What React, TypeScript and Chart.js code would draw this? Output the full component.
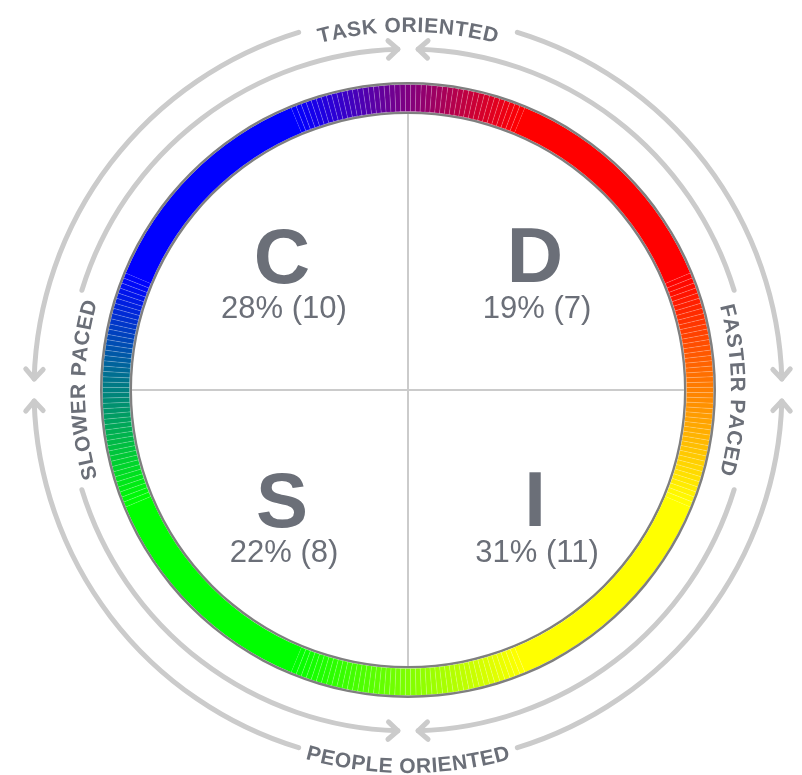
import React, { useEffect, useRef } from 'react';
import { Chart, registerables } from 'chart.js';

Chart.register(...registerables);

// ---- data ----
const quadrantLetters = ['C', 'D', 'S', 'I'];
const quadrantPercents = [28, 19, 22, 31];
const quadrantCounts = [10, 7, 8, 11];
const axisLabels = ['TASK ORIENTED', 'FASTER PACED', 'PEOPLE ORIENTED', 'SLOWER PACED'];

// ring colour stops, clockwise from the top: red (D), yellow (I), green (S), blue (C)
const ringStopColors = [
  [255, 0, 0],
  [255, 255, 0],
  [0, 255, 0],
  [0, 0, 255],
];
const ringSolidDegrees = [45, 45, 45, 45];
const ringBlendSteps = [45, 45, 45, 45];

// ---- style ----
const TEXT_COLOR = '#6b6f78';
const GUIDE_COLOR = '#cbcbcb';
const RING_EDGE = '#7f7f7f';
const FONT = '"Liberation Sans", Arial, Helvetica, sans-serif';

function buildRing() {
  const values: number[] = [];
  const colors: string[] = [];
  const borders: number[] = [];
  for (let i = 0; i < 4; i++) {
    const from = ringStopColors[(i + 3) % 4];
    const to = ringStopColors[i];
    const steps = ringBlendSteps[i];
    for (let k = 0; k < steps; k++) {
      const t = (k + 0.5) / steps;
      const c = from.map((v, j) => Math.round(v + (to[j] - v) * t));
      values.push(45 / steps);
      colors.push(`rgb(${c[0]},${c[1]},${c[2]})`);
      borders.push(0.5);
    }
    values.push(ringSolidDegrees[i]);
    colors.push(`rgb(${to[0]},${to[1]},${to[2]})`);
    borders.push(0);
  }
  return { values, colors, borders };
}

const deg = Math.PI / 180;

const decorPlugin = {
  id: 'discDecor',
  afterDatasetsDraw(chart: any) {
    const ctx: CanvasRenderingContext2D = chart.ctx;
    const meta = chart.getDatasetMeta(2);
    const arc = meta.data[0];
    const cx = arc.x;
    const cy = arc.y;
    const rIn = arc.innerRadius;

    ctx.save();
    // crosshair
    ctx.strokeStyle = GUIDE_COLOR;
    ctx.lineWidth = 2;
    ctx.beginPath();
    ctx.moveTo(cx, cy - rIn);
    ctx.lineTo(cx, cy + rIn);
    ctx.moveTo(cx - rIn, cy);
    ctx.lineTo(cx + rIn, cy);
    ctx.stroke();

    // quadrant labels
    const pos = [
      [-126, -107, -72],
      [127, -108, -72],
      [-126, 137, 172],
      [127, 136, 172],
    ];
    ctx.fillStyle = TEXT_COLOR;
    ctx.textAlign = 'center';
    ctx.textBaseline = 'alphabetic';
    quadrantLetters.forEach((L, i) => {
      const [dx, ly, py] = pos[i];
      ctx.font = `bold 78px ${FONT}`;
      ctx.fillText(L, cx + dx, cy + ly);
      ctx.font = `31px ${FONT}`;
      ctx.fillText(`${quadrantPercents[i]}% (${quadrantCounts[i]})`, cx + dx + 2, cy + py);
    });

    // guide arcs with arrows
    const arcs = [
      // r, start, end, arrowAtEnd
      [341, 287, 358.3, true],
      [341, 1.7, 73, false],
      [341, 107, 178.3, true],
      [341, 181.7, 253, false],
      [374, 17, 88.3, true],
      [374, 91.7, 163, false],
      [374, 197, 268.3, true],
      [374, 271.7, 343, false],
    ] as [number, number, number, boolean][];
    ctx.strokeStyle = GUIDE_COLOR;
    ctx.lineWidth = 5;
    ctx.lineCap = 'round';
    ctx.lineJoin = 'round';
    arcs.forEach(([r, a0, a1, atEnd]) => {
      ctx.beginPath();
      ctx.arc(cx, cy, r, (a0 - 90) * deg, (a1 - 90) * deg, false);
      ctx.stroke();
      const ta = (atEnd ? a1 : a0) * deg;
      const px = cx + r * Math.sin(ta);
      const py = cy - r * Math.cos(ta);
      let fx = Math.cos(ta);
      let fy = Math.sin(ta);
      if (!atEnd) { fx = -fx; fy = -fy; }
      const bx = -fx, by = -fy;
      const L = 13, ang = 42 * deg;
      ctx.beginPath();
      for (const s of [1, -1]) {
        const c = Math.cos(s * ang), sn = Math.sin(s * ang);
        const ax = bx * c - by * sn;
        const ay = bx * sn + by * c;
        ctx.moveTo(px + ax * L, py + ay * L);
        ctx.lineTo(px, py);
      }
      ctx.stroke();
    });

    // curved labels
    ctx.font = `bold 21px ${FONT}`;
    ctx.fillStyle = TEXT_COLOR;
    ctx.textAlign = 'center';
    ctx.textBaseline = 'alphabetic';
    const spacing = 0.6;
    const drawCurved = (text: string, centerDeg: number, r: number, clockwise: boolean) => {
      const chars = text.split('');
      const widths = chars.map((c) => ctx.measureText(c).width);
      const total = widths.reduce((a, b) => a + b, 0) + spacing * (chars.length - 1);
      let s = -total / 2;
      chars.forEach((ch, i) => {
        const mid = s + widths[i] / 2;
        const a = centerDeg * deg + (clockwise ? mid / r : -mid / r);
        const x = cx + r * Math.sin(a);
        const y = cy - r * Math.cos(a);
        ctx.save();
        ctx.translate(x, y);
        ctx.rotate(clockwise ? a : a - Math.PI);
        ctx.fillText(ch, 0, 0);
        ctx.restore();
        s += widths[i] + spacing;
      });
    };
    drawCurved(axisLabels[0], 0, 358, true);
    drawCurved(axisLabels[1], 90, 323, true);
    drawCurved(axisLabels[2], 180, 383, false);
    drawCurved(axisLabels[3], 270, 323, true);
    ctx.restore();
  },
};

export default function App() {
  const ref = useRef<HTMLCanvasElement | null>(null);
  useEffect(() => {
    document.body.style.margin = '0';
    const ring = buildRing();
    const chart = new Chart(ref.current as HTMLCanvasElement, {
      type: 'doughnut',
      data: {
        labels: ring.values.map((_, i) => String(i)),
        datasets: [
          { data: [1], backgroundColor: [RING_EDGE], borderWidth: 0, weight: 2.5 },
          {
            data: ring.values,
            backgroundColor: ring.colors,
            borderColor: 'rgba(255,255,255,0.3)',
            borderWidth: ring.borders,
            weight: 27,
          },
          { data: [1], backgroundColor: [RING_EDGE], borderWidth: 0, weight: 2.5 },
        ] as any,
      },
      options: {
        responsive: false,
        animation: false,
        events: [],
        radius: 308,
        cutout: `${(276 / 308) * 100}%`,
        rotation: -22.5,
        layout: { padding: { left: 14, top: 5, right: 0, bottom: 0 } },
        plugins: { legend: { display: false }, tooltip: { enabled: false } },
      } as any,
      plugins: [decorPlugin],
    });
    return () => chart.destroy();
  }, []);
  return <canvas ref={ref} width={802} height={775} style={{ display: 'block' }} />;
}
